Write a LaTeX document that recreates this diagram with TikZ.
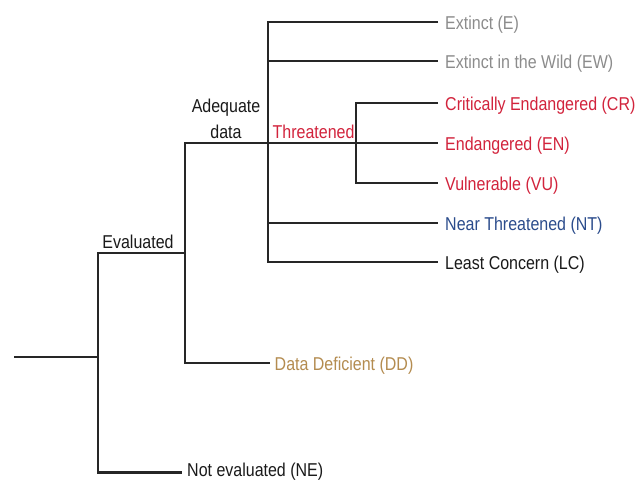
\documentclass[tikz,border=0pt]{standalone}
\usepackage{fontspec}
\newfontfamily\labfont[FakeStretch=0.86]{Liberation Sans}
\definecolor{lineclr}{HTML}{262626}
\definecolor{txtblack}{HTML}{1A1A1A}
\definecolor{extgray}{HTML}{8C8C8C}
\definecolor{thrred}{HTML}{D2233C}
\definecolor{ntblue}{HTML}{2B4C8C}
\definecolor{ddbrown}{HTML}{B48C50}
\begin{document}
\begin{tikzpicture}[x=1pt,y=-1pt,
  branch/.style={draw=lineclr,line width=2.9pt,line join=miter},
  txt/.style={font=\labfont\fontsize{18.6}{26}\selectfont,inner sep=0pt},
  leaf/.style={txt,anchor=west,inner xsep=7pt,inner ysep=0pt,text height=15pt,text depth=0pt},
]
\useasboundingbox[fill=white] (0,0) rectangle (637,480);
% junctions
\coordinate (r0) at (14,357);
\coordinate (j1) at (98,357);
\coordinate (j1t) at (98,253);
\coordinate (j1b) at (98,472.5);
\coordinate (j2) at (185,253);
\coordinate (j2t) at (185,143);
\coordinate (j2b) at (185,363);
\coordinate (j3) at (268,143);
\coordinate (j3t) at (268,22);
\coordinate (j3b) at (268,262);
\coordinate (j4) at (356,143);
\coordinate (j4t) at (356,103);
\coordinate (j4b) at (356,183);
% leaves
\node[leaf,text=extgray] (E)  at (438,22)  {Extinct (E)};
\node[leaf,text=extgray] (EW) at (438,61)  {Extinct in the Wild (EW)};
\node[leaf,text=thrred]  (CR) at (438,103) {Critically Endangered (CR)};
\node[leaf,text=thrred]  (EN) at (438,143) {Endangered (EN)};
\node[leaf,text=thrred]  (VU) at (438,183) {Vulnerable (VU)};
\node[leaf,text=ntblue]  (NT) at (438,223) {Near Threatened (NT)};
\node[leaf,text=txtblack] (LC) at (438,262) {Least Concern (LC)};
\node[leaf,text=ddbrown,inner xsep=4.5pt] (DD) at (270,363) {Data Deficient (DD)};
\node[leaf,text=txtblack,inner xsep=5pt,text height=7pt] (NE) at (182,472.5) {Not evaluated (NE)};
% branch labels
\node[txt,text=txtblack,anchor=base] (ev) at (138,248) {Evaluated};
\node[txt,text=txtblack,anchor=south,align=center,text depth=0pt] (adq) at (226,138.5) {Adequate\\data};
\node[txt,text=thrred,anchor=base west] (thr) at (272.5,138) {Threatened};
% connectors
\draw[branch] (r0) -- (j1);
\draw[branch] (j2) -- (j1t) -- (j1b) -- (NE.west);
\draw[branch] (j3) -- (j2t) -- (j2b) -- (DD.west);
\draw[branch] (E.west) -- (j3t) -- (j3b) -- (LC.west);
\draw[branch] (EW.west -| j3) -- (EW.west);
\draw[branch] (j2t) -- (EN.west);
\draw[branch] (CR.west) -- (j4t) -- (j4b) -- (VU.west);
\draw[branch] (NT.west -| j3) -- (NT.west);
\end{tikzpicture}
\end{document}
